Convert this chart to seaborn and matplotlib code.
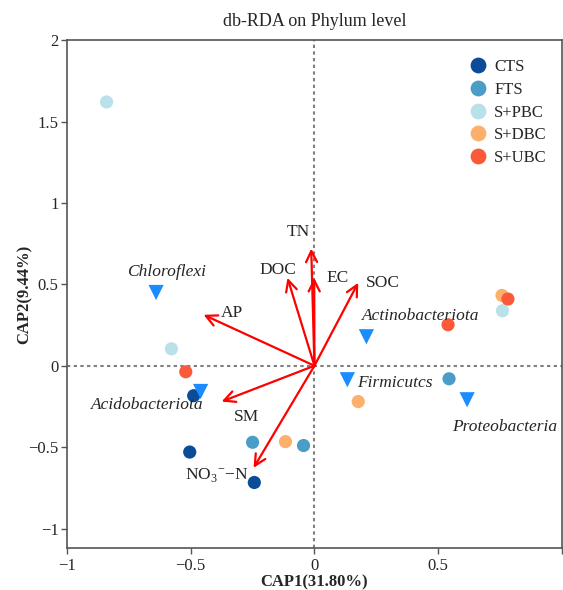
import pandas as pd
import matplotlib.pyplot as plt
import seaborn as sns

# sample scores
groups = ["CTS", "CTS", "CTS", "FTS", "FTS", "FTS",
          "S+PBC", "S+PBC", "S+PBC", "S+DBC", "S+DBC", "S+DBC",
          "S+UBC", "S+UBC", "S+UBC"]
cap1 = [-0.488, -0.504, -0.243, -0.25, -0.044, 0.544,
        -0.84, -0.578, 0.76, -0.117, 0.177, 0.758,
        -0.52, 0.54, 0.782]
cap2 = [-0.184, -0.53, -0.717, -0.47, -0.49, -0.08,
        1.62, 0.104, 0.338, -0.466, -0.22, 0.432,
        -0.037, 0.252, 0.41]
group_colors = ["#0b4c98", "#4a9dc7", "#b8e1ea", "#fdb06b", "#fb5a3a"]

# phylum scores
phyla = ["Chloroflexi", "Actinobacteriota", "Firmicutcs", "Proteobacteria", "Acidobacteriota"]
phy1 = [-0.64, 0.21, 0.133, 0.617, -0.46]
phy2 = [0.45, 0.178, -0.086, -0.209, -0.158]

# environmental vectors
env = ["TN", "DOC", "EC", "SOC", "AP", "SM", "NO$_3$$^{-}$$-$N"]
env1 = [-0.013, -0.109, -0.001, 0.177, -0.448, -0.375, -0.246]
env2 = [0.72, 0.54, 0.54, 0.51, 0.313, -0.22, -0.627]

# label positions
phy_lab = [(-0.597, 0.578, "center"), (0.43, 0.307, "center"), (0.173, -0.105, "left"),
           (0.77, -0.375, "center"), (-0.677, -0.24, "center")]
env_lab = [(-0.065, 0.824), (-0.149, 0.59), (0.093, 0.54), (0.278, 0.51),
           (-0.335, 0.326), (-0.274, -0.313), (-0.395, -0.676)]

sns.set_style("white")
plt.rcParams["font.family"] = ["Liberation Serif", "DejaVu Serif"]
plt.rcParams["mathtext.fontset"] = "custom"
plt.rcParams["mathtext.rm"] = "Liberation Serif"

fig = plt.figure(figsize=(5.63, 5.90), dpi=100)
ax = fig.add_axes([0.119, 0.071, 0.879, 0.861])

ax.axhline(0, color="#808080", ls=(0, (1.6, 1.6)), lw=1.5, zorder=1)
ax.axvline(0, color="#808080", ls=(0, (1.6, 1.6)), lw=1.5, zorder=1)

df = pd.DataFrame({"CAP1": cap1, "CAP2": cap2, "Group": groups})
sns.scatterplot(data=df, x="CAP1", y="CAP2", hue="Group",
                hue_order=["CTS", "FTS", "S+PBC", "S+DBC", "S+UBC"],
                palette=group_colors, s=90, edgecolor="none", ax=ax, zorder=3)

sns.scatterplot(x=phy1, y=phy2, marker="v", s=120, color="#1a8cff",
                edgecolor="none", ax=ax, zorder=3, legend=False)
for (lx, ly, ha), name in zip(phy_lab, phyla):
    ax.text(lx, ly, name, style="italic", fontsize=12.5, ha=ha, va="center")

for x, y, (lx, ly), name in zip(env1, env2, env_lab, env):
    ax.annotate("", xy=(x, y), xytext=(0, 0),
                arrowprops=dict(arrowstyle="->,head_length=0.8,head_width=0.4",
                                color="red", lw=1.6, shrinkA=0, shrinkB=0), zorder=4)
    ax.text(lx, ly, name, fontsize=12.5, ha="center", va="center")

ax.set_xlim(-1, 1)
ax.set_ylim(-1.12, 2)
ax.set_xticks([-1, -0.5, 0, 0.5, 1])
ax.set_xticklabels(["\u22121", "\u22120.5", "0", "0.5", ""])
ax.set_yticks([-1, -0.5, 0, 0.5, 1, 1.5, 2])
ax.set_yticklabels(["\u22121", "\u22120.5", "0", "0.5", "1", "1.5", "2"])
ax.tick_params(axis="both", direction="out", length=4, width=1, color="#555555",
               labelsize=12, pad=2, left=True, bottom=True)
ax.tick_params(axis="x", pad=3)
for sp in ax.spines.values():
    sp.set_color("#555555")
    sp.set_linewidth(1.2)

ax.set_xlabel("CAP1(31.80%)", fontsize=12, fontweight="bold", labelpad=0.5)
ax.set_ylabel("CAP2(9.44%)", fontsize=12, fontweight="bold")
ax.yaxis.set_label_coords(-0.07, 0.5)
ax.set_title("db-RDA on Phylum level", fontsize=13, pad=10)

leg = ax.legend(loc="upper right", bbox_to_anchor=(1.0, 0.992), frameon=False,
                fontsize=12, markerscale=1.2, handletextpad=-0.05,
                labelspacing=0.4, title=None)

fig.savefig("out.png", dpi=100)
